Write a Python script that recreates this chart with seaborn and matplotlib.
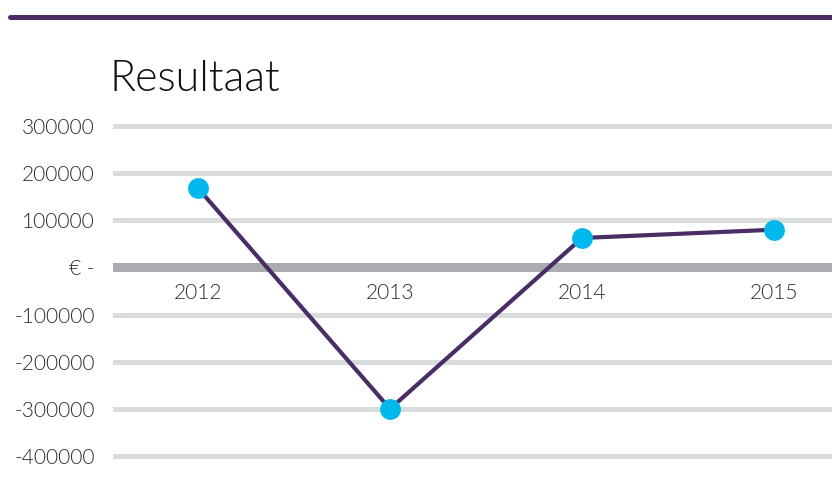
import pandas as pd
import seaborn as sns
import matplotlib.pyplot as plt
from matplotlib.lines import Line2D

sns.set_style("white")
plt.rcParams['font.family'] = ['Lato', 'DejaVu Sans']

# data
years = ['2012', '2013', '2014', '2015']
resultaat = [168000, -300000, 62500, 80000]
y_ticks = [300000, 200000, 100000, 0, -100000, -200000, -300000, -400000]
y_labels = ['300000', '200000', '100000', '€ -', '-100000', '-200000', '-300000', '-400000']

df = pd.DataFrame({'pos': range(len(years)), 'jaar': years, 'resultaat': resultaat})

purple = '#4a2d66'
blue = '#00b8ee'
grid_grey = '#d9dcdc'
zero_grey = '#abacb0'
text_col = '#2b2b2b'

fig = plt.figure(figsize=(8.32, 4.91), dpi=100)
ax = fig.add_axes([113 / 832, (491 - 460.7) / 491, 719 / 832, 339.4 / 491])

# gridlines
for t in y_ticks:
    if t == 0:
        ax.axhline(t, color=zero_grey, linewidth=6.5, zorder=1)
    else:
        ax.axhline(t, color=grid_grey, linewidth=3.6, zorder=0)

sns.lineplot(data=df, x='pos', y='resultaat', ax=ax, color=purple, linewidth=3.0,
             marker='o', markersize=15, markerfacecolor=blue, markeredgewidth=0,
             zorder=3, clip_on=False)

ax.set_xlim(-0.443, 3.302)
ax.set_ylim(-410000, 310000)
ax.set_yticks(y_ticks)
ax.set_yticklabels(y_labels)
ax.set_xticks([])
ax.set_xlabel('')
ax.set_ylabel('')
ax.tick_params(axis='y', length=0, pad=13, labelsize=15, labelcolor=text_col)
for lab in ax.get_yticklabels():
    lab.set_fontweight(300)
sns.despine(ax=ax, left=True, bottom=True, top=True, right=True)

# year labels just below the zero line
for i, yr in enumerate(years):
    ax.annotate(yr, xy=(i, 0), xytext=(0, -18.5), textcoords='offset points',
                ha='center', va='center', fontsize=15, color=text_col,
                fontweight=300)

# top band and title
fig.add_artist(Line2D([10 / 832, 1], [474.5 / 491, 474.5 / 491], color=purple,
                      linewidth=3.6, transform=fig.transFigure))
fig.text(110 / 832, (491 - 91) / 491, 'Resultaat', fontsize=31, color='#111111',
         fontweight=300, va='baseline', ha='left')

fig.savefig('out.png', dpi=100)
